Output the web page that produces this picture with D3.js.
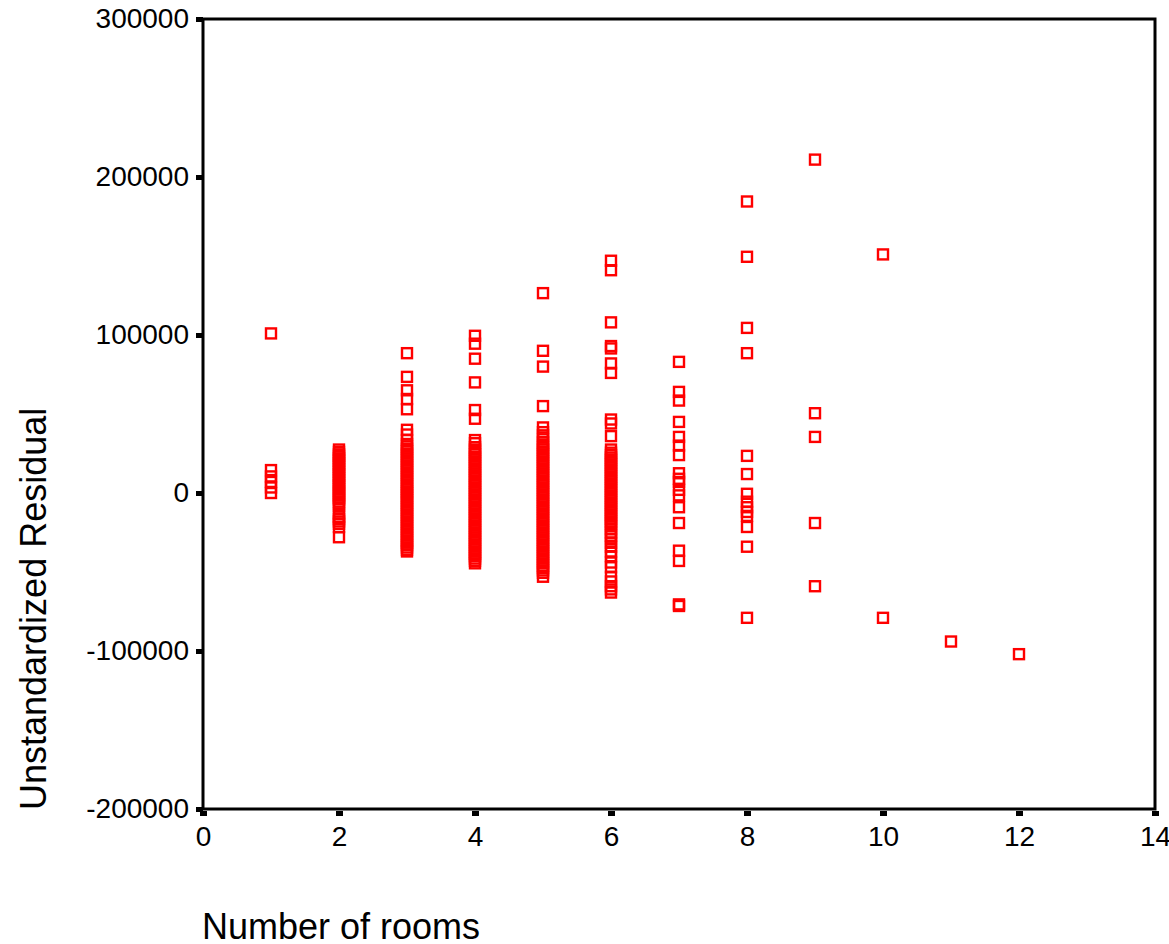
<!DOCTYPE html>
<html>
<head>
<meta charset="utf-8">
<script src="https://cdn.jsdelivr.net/npm/d3@7"></script>
<style>
  body { margin: 0; background: #fff; }
  svg { display: block; font-family: "Liberation Sans", Arial, Helvetica, sans-serif; }
</style>
</head>
<body>
<div id="chart"></div>
<script>
// residuos por numero de quartos
const rooms1 = [101000, 14500, 10500, 7000, 3500, 0];
const rooms2 = [27500, 26000, 24500, 23500, 22000, 20500, 19000, 18000, 16500, 15000,
  13500, 12000, 11000, 9500, 8000, 6500, 5000, 4000, 2500, 1000, 0, -1500, -3000, -4000,
  -5500, -7000, -8000, -13000, -15000, -16500, -18000, -19500, -21500, -28000];
const rooms3 = [88500, 73500, 65000, 59500, 53000, 40000, 37000, 33500, 31000, 29500,
  28000, 26500, 25000, 23500, 22000, 20500, 19000, 17500, 16000, 14500, 13000, 11500,
  10000, 8500, 7000, 5500, 4000, 2500, 1000, 0, -1500, -3000, -4500, -6000, -7500, -9000,
  -10500, -12000, -13500, -15000, -16500, -18000, -19500, -21000, -22500, -24000, -25500,
  -27000, -28500, -30000, -31500, -33000, -34500, -36000, -37000];
const rooms4 = [99500, 94500, 85000, 70000, 52500, 47000, 33500, 31500, 29000, 27500,
  26000, 24500, 23000, 21500, 20000, 18500, 17000, 15500, 14000, 12500, 11000, 9500,
  8000, 6500, 5000, 3500, 2000, 500, -1000, -2500, -4000, -5500, -7000, -8500, -10000,
  -11500, -13000, -14500, -16000, -17500, -19000, -20500, -22000, -23500, -25000, -26500,
  -28000, -29500, -31000, -32500, -34000, -35500, -37000, -38500, -40000, -41500, -43000,
  -44500];
const rooms5 = [126500, 90000, 80000, 55000, 41500, 38500, 36500, 34000, 32000, 30500,
  29000, 27500, 26000, 24500, 23000, 21500, 20000, 18500, 17000, 15500, 14000, 12500,
  11000, 9500, 8000, 6500, 5000, 3500, 2000, 500, -1000, -2500, -4000, -5500, -7000,
  -8500, -10000, -11500, -13000, -14500, -16000, -17500, -19000, -20500, -22000, -23500,
  -25000, -26500, -28000, -29500, -31000, -32500, -34000, -35500, -37000, -38500, -40000,
  -41500, -43000, -44500, -46000, -47500, -49000, -50500, -53000];
const rooms6 = [147000, 141000, 108000, 93000, 91500, 82000, 76000, 46500, 44000, 36000,
  27500, 25500, 24000, 22500, 21000, 19500, 18000, 16500, 15000, 13500, 12000, 10500,
  9000, 7500, 6000, 4500, 3000, 1500, 0, -1500, -3000, -4500, -6000, -7500, -9000,
  -10500, -12000, -13500, -15000, -16500, -18000, -19500, -21000, -23000, -25000, -27000,
  -29000, -31500, -34000, -37000, -40000, -44000, -47000, -53000, -56000, -59000, -61000,
  -63000];
const rooms7 = [83000, 64000, 58500, 45000, 35500, 30000, 24000, 12500, 9000, 7000, 2000,
  -1500, -9000, -19000, -36500, -43000, -70500, -71500];
const rooms8 = [184500, 149500, 104500, 88500, 23500, 12000, -500, -5500, -9000, -12000,
  -14500, -21500, -34000, -79000];
const rooms9 = [211000, 50500, 35500, -19000, -59000];
const rooms10 = [151000, -79000];
const rooms11 = [-94000];
const rooms12 = [-102000];

const columns = [
  [1, rooms1], [2, rooms2], [3, rooms3], [4, rooms4], [5, rooms5], [6, rooms6],
  [7, rooms7], [8, rooms8], [9, rooms9], [10, rooms10], [11, rooms11], [12, rooms12]
];

const xTicks = [0, 2, 4, 6, 8, 10, 12, 14];
const yTicks = [-200000, -100000, 0, 100000, 200000, 300000];

const width = 1169, height = 944;
const margin = { top: 19, right: 14, bottom: 135, left: 203 };

const points = [];
columns.forEach(([rooms, vals]) => vals.forEach(v => points.push({ rooms, residual: v })));

const svg = d3.select('#chart')
  .append('svg')
  .attr('width', width)
  .attr('height', height);

const x = d3.scaleLinear().domain([0, 14]).range([margin.left, width - margin.right]);
const y = d3.scaleLinear().domain([-200000, 300000]).range([height - margin.bottom, margin.top]);

// pontos
const s = 10;
svg.append('g')
  .selectAll('rect')
  .data(points)
  .enter()
  .append('rect')
  .attr('x', d => x(d.rooms) - s / 2)
  .attr('y', d => y(d.residual) - s / 2)
  .attr('width', s)
  .attr('height', s)
  .attr('fill', 'none')
  .attr('stroke', '#ff0000')
  .attr('stroke-width', 2.4);

// moldura
svg.append('rect')
  .attr('x', x(0))
  .attr('y', y(300000))
  .attr('width', x(14) - x(0))
  .attr('height', y(-200000) - y(300000))
  .attr('fill', 'none')
  .attr('stroke', '#000')
  .attr('stroke-width', 3);

// eixo y (hifen simples como no original)
const yAxis = svg.append('g')
  .attr('transform', `translate(${x(0)},0)`)
  .call(d3.axisLeft(y).tickValues(yTicks).tickSize(7).tickPadding(7).tickFormat(d => String(d)));
yAxis.select('.domain').remove();
yAxis.selectAll('line').attr('stroke', '#000').attr('stroke-width', 5);
yAxis.selectAll('text').attr('font-size', '28px').attr('fill', '#000');

// eixo x
const xAxis = svg.append('g')
  .attr('transform', `translate(0,${y(-200000)})`)
  .call(d3.axisBottom(x).tickValues(xTicks).tickSize(7).tickPadding(10));
xAxis.select('.domain').remove();
xAxis.selectAll('line').attr('y1', 2).attr('stroke', '#000').attr('stroke-width', 7);
xAxis.selectAll('text').attr('font-size', '28px').attr('fill', '#000');

// titulos
svg.append('text')
  .attr('x', 202)
  .attr('y', 939)
  .attr('font-size', '36px')
  .attr('fill', '#000')
  .text('Number of rooms');

svg.append('text')
  .attr('transform', 'translate(46,810) rotate(-90)')
  .attr('font-size', '36px')
  .attr('fill', '#000')
  .text('Unstandardized Residual');
</script>
</body>
</html>
